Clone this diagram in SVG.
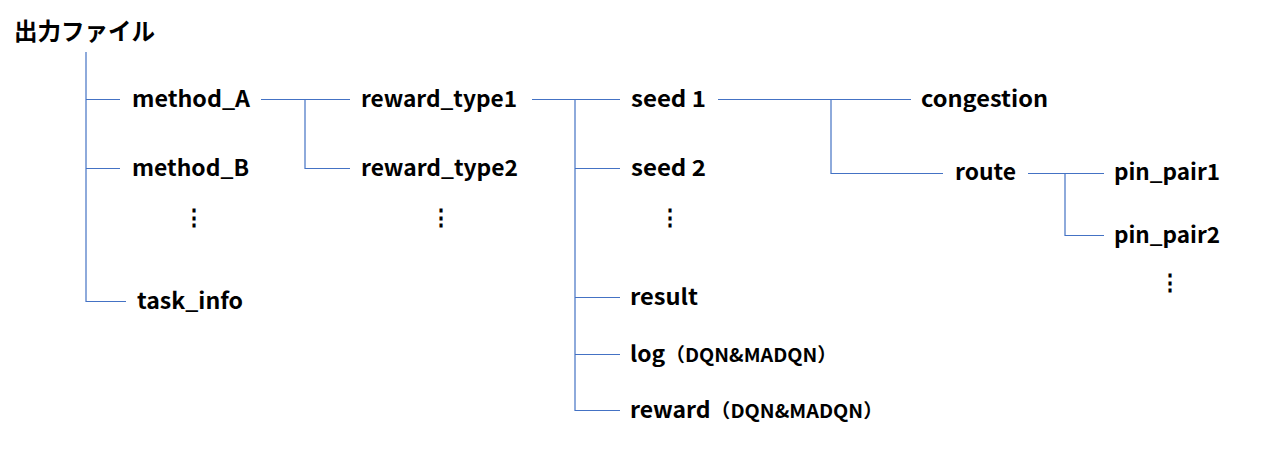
<svg xmlns="http://www.w3.org/2000/svg" width="1278" height="462" viewBox="0 0 1278 462">
<style>
.t{font-family:"Noto Sans CJK JP","Noto Sans",sans-serif;font-weight:bold;font-size:22px;fill:#000}
.r{font-size:24px}
.s{font-size:19px}
.d{font-family:"Noto Sans CJK JP",sans-serif;font-weight:bold;font-size:22px;fill:#000;text-anchor:middle}
.c{stroke:#4472C4;stroke-width:1.2;fill:none}
</style>
<rect width="1278" height="462" fill="#fff"/>
<g id="connectors" class="c">
<path d="M86,52V301.5H126M86,99.5H120M86,168.5H120"/>
<path d="M261,99.5H350M305,99.5V168.5H350"/>
<path d="M532,99.5H620M575,99.5V410.5H620M575,168.5H620M575,297.5H620M575,354.5H620"/>
<path d="M718,99.5H911M831,99.5V173.5H943"/>
<path d="M1028,173.5H1104M1065,173.5V235.5H1104"/>
</g>
<g id="root"><text class="t r" x="14" y="40" textLength="141" lengthAdjust="spacingAndGlyphs">出力ファイル</text></g>
<g id="method_A"><text class="t" x="132" y="107" textLength="118" lengthAdjust="spacingAndGlyphs">method_A</text></g>
<g id="method_B"><text class="t" x="132" y="176" textLength="117" lengthAdjust="spacingAndGlyphs">method_B</text></g>
<g id="method_more"><text class="d" x="194" y="225">⋮</text></g>
<g id="task_info"><text class="t" x="137" y="309" textLength="106" lengthAdjust="spacingAndGlyphs">task_info</text></g>
<g id="reward_type1"><text class="t" x="361" y="107" textLength="156" lengthAdjust="spacingAndGlyphs">reward_type1</text></g>
<g id="reward_type2"><text class="t" x="361" y="176" textLength="157" lengthAdjust="spacingAndGlyphs">reward_type2</text></g>
<g id="reward_more"><text class="d" x="441" y="225">⋮</text></g>
<g id="seed1"><text class="t" x="631" y="107" textLength="75" lengthAdjust="spacingAndGlyphs">seed 1</text></g>
<g id="seed2"><text class="t" x="631" y="176" textLength="75" lengthAdjust="spacingAndGlyphs">seed 2</text></g>
<g id="seed_more"><text class="d" x="670" y="225">⋮</text></g>
<g id="result"><text class="t" x="630" y="305" textLength="68" lengthAdjust="spacingAndGlyphs">result</text></g>
<g id="log"><text class="t" x="630" y="362" textLength="207" lengthAdjust="spacingAndGlyphs">log<tspan class="s">（DQN&amp;MADQN）</tspan></text></g>
<g id="reward"><text class="t" x="630" y="418" textLength="253" lengthAdjust="spacingAndGlyphs">reward<tspan class="s">（DQN&amp;MADQN）</tspan></text></g>
<g id="congestion"><text class="t" x="921" y="107" textLength="127" lengthAdjust="spacingAndGlyphs">congestion</text></g>
<g id="route"><text class="t" x="955" y="180" textLength="61" lengthAdjust="spacingAndGlyphs">route</text></g>
<g id="pin_pair1"><text class="t" x="1114" y="180" textLength="106" lengthAdjust="spacingAndGlyphs">pin_pair1</text></g>
<g id="pin_pair2"><text class="t" x="1114" y="243" textLength="106" lengthAdjust="spacingAndGlyphs">pin_pair2</text></g>
<g id="pin_more"><text class="d" x="1170" y="290">⋮</text></g>
</svg>
